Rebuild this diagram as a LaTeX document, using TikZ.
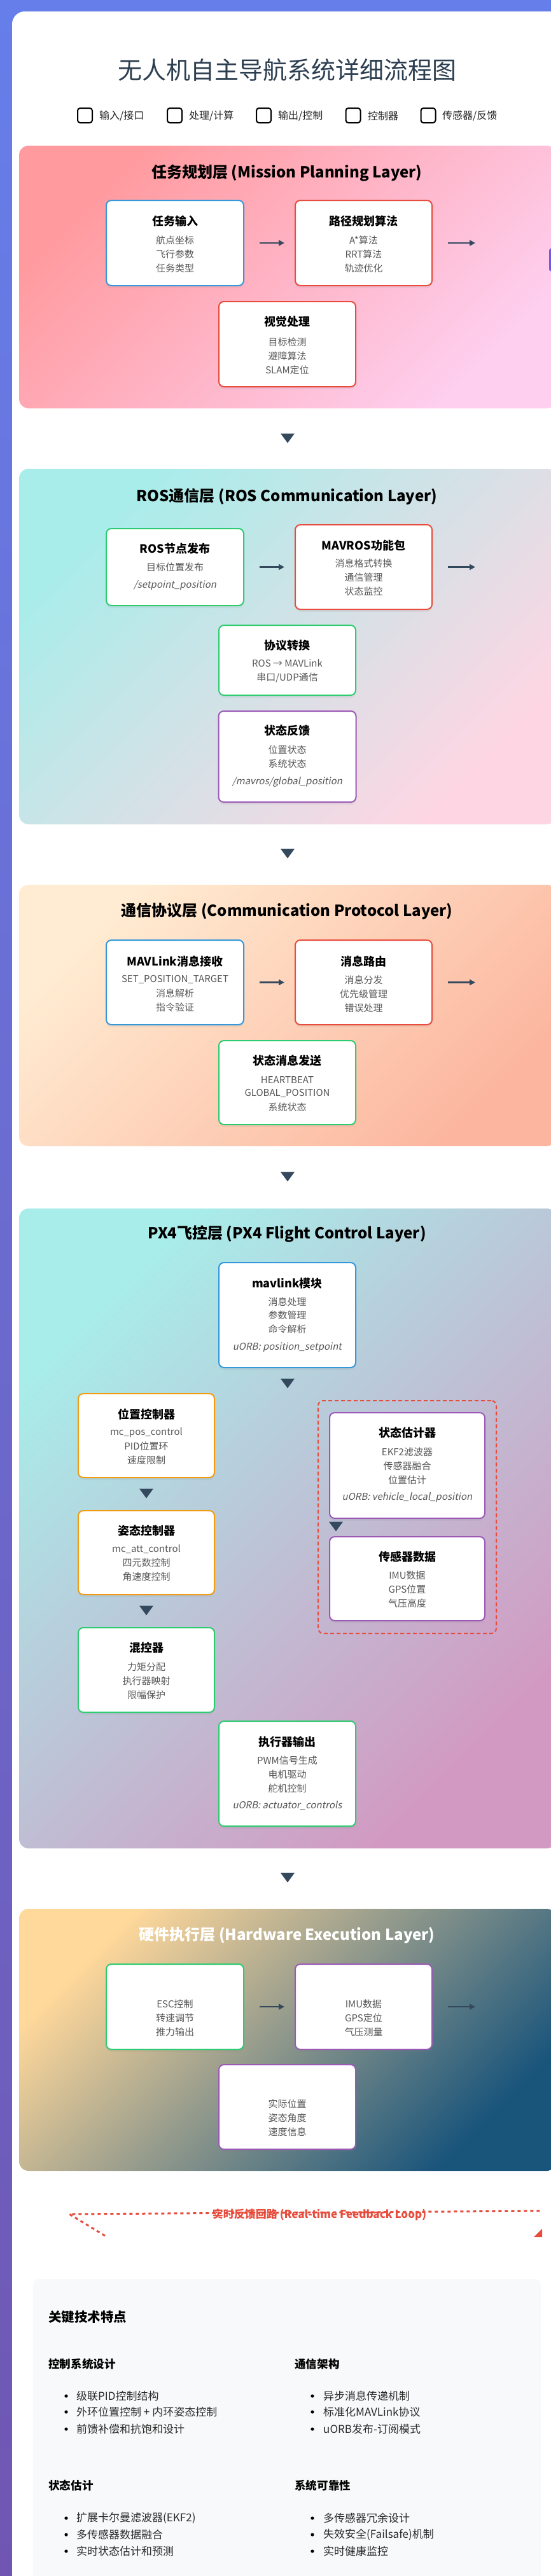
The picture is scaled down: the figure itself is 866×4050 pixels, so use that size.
\documentclass[tikz,border=0pt]{standalone}
\usepackage{fontspec}
\setmainfont{Noto Sans CJK SC}
\newfontfamily\slfont{Noto Sans CJK SC}[FakeSlant=0.2]
\usetikzlibrary{arrows.meta,shadows}
\definecolor{bgtop}{HTML}{667EEA}
\definecolor{bgbot}{HTML}{7056B2}
\definecolor{cblue}{HTML}{3498DB}
\definecolor{cred}{HTML}{E74C3C}
\definecolor{cgreen}{HTML}{2ECC71}
\definecolor{corange}{HTML}{F39C12}
\definecolor{cpurple}{HTML}{9B59B6}
\definecolor{titlec}{HTML}{2C3E50}
\definecolor{arrowc}{HTML}{34495E}
\definecolor{itemc}{HTML}{555555}
\definecolor{legc}{HTML}{222222}
\definecolor{bulc}{HTML}{2A2A2A}
\definecolor{featbg}{HTML}{F8F9FA}
\definecolor{stubc}{HTML}{6C5CE7}
\definecolor{la}{HTML}{FF9A9E}\definecolor{lb}{HTML}{FECFEF}
\definecolor{lc}{HTML}{A8EDEA}\definecolor{ld}{HTML}{FED6E3}
\definecolor{le}{HTML}{FFECD2}\definecolor{lf}{HTML}{FCB69F}
\definecolor{lg}{HTML}{A8EDEA}\definecolor{lh}{HTML}{D299C2}
\definecolor{li}{HTML}{FFD89B}\definecolor{lj}{HTML}{19547B}
\newcommand\card[6]{\node[cardbox, draw=#2, minimum width=#5pt, minimum height=#6pt] (#1) at (#3,#4) {};}
\newcommand\downtri[1]{\fill[arrowc] ([shift={(-11,-7.5)}]#1) -- ([shift={(11,-7.5)}]#1) -- ([shift={(0,7.5)}]#1) -- cycle;}
\begin{document}
\begin{tikzpicture}[x=1pt,y=-1pt,
 cardbox/.style={draw, line width=2pt, fill=white, rounded corners=8pt, inner sep=0pt, drop shadow={opacity=0.10, shadow xshift=0pt, shadow yshift=-4pt}},
 ctit/.style={inner sep=0pt, font=\fontsize{18}{20}\selectfont\bfseries, text=black},
 citm/.style={inner sep=0pt, font=\fontsize{15}{17}\selectfont, text=itemc},
 cslt/.style={inner sep=0pt, font=\fontsize{15}{17}\selectfont\slfont, text=itemc},
 ltit/.style={inner sep=0pt, font=\fontsize{24}{28}\selectfont\bfseries},
 conn/.style={draw=arrowc, line width=2.5pt, -{Triangle[length=9pt,width=9pt]}},
 legbox/.style={draw=black, line width=2pt, fill=white, rounded corners=4pt, minimum size=23pt, inner sep=0pt},
 legtxt/.style={inner sep=0pt, anchor=west, font=\fontsize{16}{18}\selectfont, text=legc},
 head/.style={inner sep=0pt, anchor=west, font=\fontsize{17.6}{20}\selectfont\bfseries},
 bul/.style={inner sep=0pt, anchor=west, font=\fontsize{17}{20}\selectfont, text=bulc},
 grpbox/.style={draw=cred, line width=2pt, dash pattern=on 6pt off 4pt, rounded corners=8pt, inner sep=0pt}
]
\useasboundingbox (0,0) rectangle (866,4050);
% page background
\shade[top color=bgtop, bottom color=bgbot] (0,0) rectangle (866,4050);
\fill[white, rounded corners=20pt] (19,18) rectangle (930,4120);
% main title
\node[inner sep=0pt, font=\fontsize{38}{44}\selectfont, text=titlec] (title) at (451,110) {无人机自主导航系统详细流程图};
% legend
\node[legbox] (lg1) at (133.5,181.5) {}; \node[legtxt] (lt1) at (156,182) {输入/接口};
\node[legbox] (lg2) at (274.5,181.5) {}; \node[legtxt] (lt2) at (297,182) {处理/计算};
\node[legbox] (lg3) at (414.5,181.5) {}; \node[legtxt] (lt3) at (437,182) {输出/控制};
\node[legbox] (lg4) at (555,181.5) {}; \node[legtxt] (lt4) at (578,182) {控制器};
\node[legbox] (lg5) at (673,181.5) {}; \node[legtxt] (lt5) at (695,182) {传感器/反馈};

% ================= Layer 1
\shade[rounded corners=15pt, top color=la, bottom color=lb, shading angle=45] (30,229) rectangle (874,642);
\node[ltit] (L1t) at (451,272) {任务规划层 (Mission Planning Layer)};
\card{a}{cblue}{275}{382}{216}{134}
\node[ctit] (a-t) at (275,348) {任务输入};
\node[citm] (a-1) at (275,378) {航点坐标};
\node[citm] (a-2) at (275,400) {飞行参数};
\node[citm] (a-3) at (275,422) {任务类型};
\card{b}{cred}{571.5}{382}{215}{134}
\node[ctit] (b-t) at (571.5,348) {路径规划算法};
\node[citm] (b-1) at (571.5,378) {A*算法};
\node[citm] (b-2) at (571.5,400) {RRT算法};
\node[citm] (b-3) at (571.5,422) {轨迹优化};
\card{c}{cred}{451.5}{541}{215}{134}
\node[ctit] (c-t) at (451.5,506) {视觉处理};
\node[citm] (c-1) at (451.5,538) {目标检测};
\node[citm] (c-2) at (451.5,560) {避障算法};
\node[citm] (c-3) at (451.5,582) {SLAM定位};
\draw[conn] ([xshift=24pt]a.east) -- ([xshift=-16pt]b.west);
\coordinate (b-out) at ([xshift=67pt]b.east);
\draw[conn] ([xshift=24pt]b.east) -- (b-out);
\fill[stubc, rounded corners=4pt] (863,390) rectangle (884,427);
\coordinate (v1) at (452,689); \downtri{v1}

% ================= Layer 2
\shade[rounded corners=15pt, top color=lc, bottom color=ld, shading angle=45] (30,737) rectangle (874,1296);
\node[ltit] (L2t) at (451,781) {ROS通信层 (ROS Communication Layer)};
\card{d}{cgreen}{275}{891.5}{216}{121}
\node[ctit] (d-t) at (275,863) {ROS节点发布};
\node[citm] (d-1) at (275,892) {目标位置发布};
\node[cslt] (d-2) at (275,920) {/setpoint\_position};
\card{e}{cred}{571.5}{891.5}{215}{133}
\node[ctit] (e-t) at (571.5,858) {MAVROS功能包};
\node[citm] (e-1) at (571.5,886) {消息格式转换};
\node[citm] (e-2) at (571.5,908) {通信管理};
\node[citm] (e-3) at (571.5,930) {状态监控};
\draw[conn] ([xshift=24pt]d.east) -- ([xshift=-16pt]e.west);
\coordinate (e-out) at ([xshift=67pt]e.east);
\draw[conn] ([xshift=24pt]e.east) -- (e-out);
\card{f}{cgreen}{451.5}{1038}{215}{110}
\node[ctit] (f-t) at (451.5,1015) {协议转换};
\node[citm] (f-1) at (451.5,1043) {ROS → MAVLink};
\node[citm] (f-2) at (451.5,1066) {串口/UDP通信};
\card{g}{cpurple}{451.5}{1189.5}{216}{143}
\node[ctit] (g-t) at (451.5,1149) {状态反馈};
\node[citm] (g-1) at (451.5,1179) {位置状态};
\node[citm] (g-2) at (451.5,1201) {系统状态};
\node[cslt] (g-3) at (451.5,1229) {/mavros/global\_position};
\coordinate (v2) at (452,1342); \downtri{v2}

% ================= Layer 3
\shade[rounded corners=15pt, top color=le, bottom color=lf, shading angle=45] (30,1391) rectangle (874,1802);
\node[ltit] (L3t) at (451,1433) {通信协议层 (Communication Protocol Layer)};
\card{h}{cblue}{275}{1544.5}{216}{133}
\node[ctit] (h-t) at (275,1512) {MAVLink消息接收};
\node[citm] (h-1) at (275,1540) {SET\_POSITION\_TARGET};
\node[citm] (h-2) at (275,1562) {消息解析};
\node[citm] (h-3) at (275,1584) {指令验证};
\card{i}{cred}{571.5}{1544.5}{215}{133}
\node[ctit] (i-t) at (571.5,1512) {消息路由};
\node[citm] (i-1) at (571.5,1541) {消息分发};
\node[citm] (i-2) at (571.5,1563) {优先级管理};
\node[citm] (i-3) at (571.5,1585) {错误处理};
\draw[conn] ([xshift=24pt]h.east) -- ([xshift=-16pt]i.west);
\coordinate (i-out) at ([xshift=67pt]i.east);
\draw[conn] ([xshift=24pt]i.east) -- (i-out);
\card{j}{cgreen}{451.5}{1702}{215}{132}
\node[ctit] (j-t) at (451.5,1668) {状态消息发送};
\node[citm] (j-1) at (451.5,1698) {HEARTBEAT};
\node[citm] (j-2) at (451.5,1719) {GLOBAL\_POSITION};
\node[citm] (j-3) at (451.5,1741) {系统状态};
\coordinate (v3) at (452,1850); \downtri{v3}

% ================= Layer 4
\shade[rounded corners=15pt, top color=lg, bottom color=lh, shading angle=45] (30,1900) rectangle (874,2906);
\node[ltit] (L4t) at (451,1940) {PX4飞控层 (PX4 Flight Control Layer)};
\card{k}{cblue}{451.5}{2067.5}{215}{165}
\node[ctit] (k-t) at (451.5,2018) {mavlink模块};
\node[citm] (k-1) at (451.5,2047) {消息处理};
\node[citm] (k-2) at (451.5,2068) {参数管理};
\node[citm] (k-3) at (451.5,2090) {命令解析};
\node[cslt] (k-4) at (451.5,2118) {uORB: position\_setpoint};
\coordinate (v4) at (452,2175); \downtri{v4}
\card{l}{corange}{230}{2257}{214}{132}
\node[ctit] (l-t) at (230,2223) {位置控制器};
\node[citm] (l-1) at (230,2252) {mc\_pos\_control};
\node[citm] (l-2) at (230,2274) {PID位置环};
\node[citm] (l-3) at (230,2296) {速度限制};
\coordinate (v5) at (230,2348); \downtri{v5}
\card{m}{corange}{230}{2441}{214}{132}
\node[ctit] (m-t) at (230,2407) {姿态控制器};
\node[citm] (m-1) at (230,2436) {mc\_att\_control};
\node[citm] (m-2) at (230,2457) {四元数控制};
\node[citm] (m-3) at (230,2479) {角速度控制};
\coordinate (v6) at (230,2532); \downtri{v6}
\card{n}{cgreen}{230}{2625.5}{214}{133}
\node[ctit] (n-t) at (230,2591) {混控器};
\node[citm] (n-1) at (230,2621) {力矩分配};
\node[citm] (n-2) at (230,2643) {执行器映射};
\node[citm] (n-3) at (230,2665) {限幅保护};
\card{o}{cgreen}{451.5}{2788.5}{215}{165}
\node[ctit] (o-t) at (451.5,2739) {执行器输出};
\node[citm] (o-1) at (451.5,2768) {PWM信号生成};
\node[citm] (o-2) at (451.5,2790) {电机驱动};
\node[citm] (o-3) at (451.5,2812) {舵机控制};
\node[cslt] (o-4) at (451.5,2839) {uORB: actuator\_controls};
\node[grpbox, minimum width=280pt, minimum height=366pt] (grp) at (640,2385) {};
\card{p}{cpurple}{640}{2304}{244}{166}
\node[ctit] (p-t) at (640,2253) {状态估计器};
\node[citm] (p-1) at (640,2283) {EKF2滤波器};
\node[citm] (p-2) at (640,2305) {传感器融合};
\node[citm] (p-3) at (640,2327) {位置估计};
\node[cslt] (p-4) at (640,2354) {uORB: vehicle\_local\_position};
\coordinate (v7) at (528,2400); \downtri{v7}
\card{q}{cpurple}{640}{2482}{244}{132}
\node[ctit] (q-t) at (640,2448) {传感器数据};
\node[citm] (q-1) at (640,2477) {IMU数据};
\node[citm] (q-2) at (640,2499) {GPS位置};
\node[citm] (q-3) at (640,2521) {气压高度};
\coordinate (v8) at (452,2952); \downtri{v8}

% ================= Layer 5
\shade[rounded corners=15pt, top color=li, bottom color=lj, shading angle=45] (30,3001) rectangle (874,3413);
\node[ltit, text=white] (L5t) at (451,3043) {硬件执行层 (Hardware Execution Layer)};
\card{r}{cgreen}{275}{3155}{216}{134}
\node[citm] (r-1) at (275,3151) {ESC控制};
\node[citm] (r-2) at (275,3173) {转速调节};
\node[citm] (r-3) at (275,3195) {推力输出};
\card{s}{cpurple}{571.5}{3155}{215}{134}
\node[citm] (s-1) at (571.5,3151) {IMU数据};
\node[citm] (s-2) at (571.5,3173) {GPS定位};
\node[citm] (s-3) at (571.5,3195) {气压测量};
\draw[conn] ([xshift=24pt]r.east) -- ([xshift=-16pt]s.west);
\coordinate (s-out) at ([xshift=67pt]s.east);
\draw[conn] ([xshift=24pt]s.east) -- (s-out);
\card{t}{cpurple}{451.5}{3312.5}{215}{133}
\node[citm] (t-1) at (451.5,3308) {实际位置};
\node[citm] (t-2) at (451.5,3330) {姿态角度};
\node[citm] (t-3) at (451.5,3352) {速度信息};

% ================= feedback loop
\node[inner sep=0pt, font=\fontsize{17}{20}\selectfont\bfseries, text=cred] (fb) at (502,3482) {实时反馈回路 (Real-time Feedback Loop)};
\coordinate (fb-a) at (165,3515);
\coordinate (fb-b) at (109,3481);
\coordinate (fb-c) at (850,3476);
\draw[cred, line width=3pt, dash pattern=on 5pt off 5pt] (fb-a) -- (fb-b) -- (fb-c);
\fill[cred] (839,3517) -- (852,3517) -- (852,3504) -- cycle;

% ================= key features
\fill[featbg, rounded corners=10pt] (52,3583) rectangle (850,4090);
\node[inner sep=0pt, anchor=west, font=\fontsize{20.5}{24}\selectfont\bfseries] (kf) at (76,3643) {关键技术特点};
\node[head] (h1) at (76,3717) {控制系统设计};
\node[head] (h2) at (463,3717) {通信架构};
\node[head] (h3) at (76,3908) {状态估计};
\node[head] (h4) at (463,3908) {系统可靠性};
\foreach \yy in {3767,3792,3819,3959,3985,4011}{
  \fill[black] (104,\yy) circle (2.6pt);
  \fill[black] (491,\yy) circle (2.6pt);
}
\node[bul] (b11) at (120,3767) {级联PID控制结构};
\node[bul] (b12) at (120,3792) {外环位置控制 + 内环姿态控制};
\node[bul] (b13) at (120,3819) {前馈补偿和抗饱和设计};
\node[bul] (b21) at (508,3767) {异步消息传递机制};
\node[bul] (b22) at (508,3792) {标准化MAVLink协议};
\node[bul] (b23) at (508,3819) {uORB发布-订阅模式};
\node[bul] (b31) at (120,3959) {扩展卡尔曼滤波器(EKF2)};
\node[bul] (b32) at (120,3985) {多传感器数据融合};
\node[bul] (b33) at (120,4011) {实时状态估计和预测};
\node[bul] (b41) at (508,3959) {多传感器冗余设计};
\node[bul] (b42) at (508,3985) {失效安全(Failsafe)机制};
\node[bul] (b43) at (508,4011) {实时健康监控};
\end{tikzpicture}
\end{document}
